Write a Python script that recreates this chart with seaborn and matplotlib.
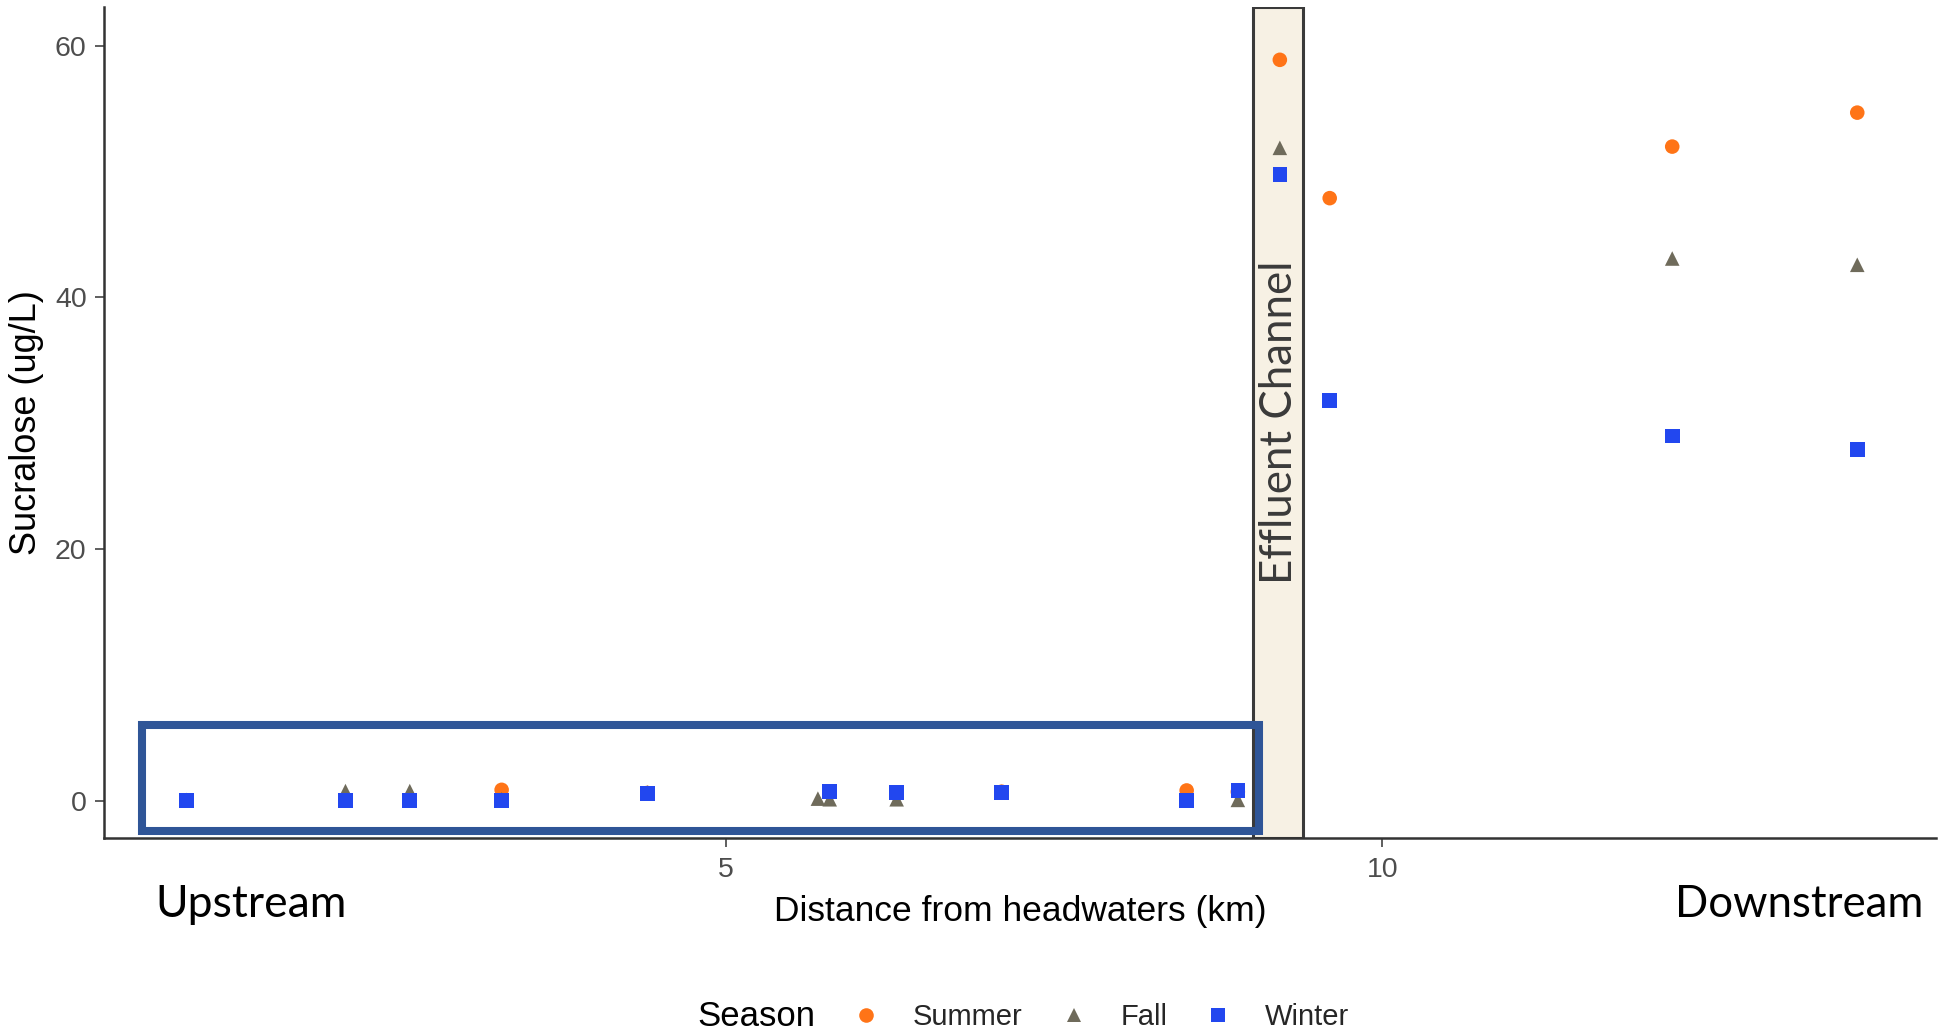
import matplotlib
matplotlib.use("Agg")
import matplotlib.pyplot as plt
import matplotlib.transforms as mtransforms
from matplotlib.patches import Rectangle
import seaborn as sns
import pandas as pd

# ---------------- data ----------------
summer_km = [0.89, 2.10, 2.59, 3.29, 4.40, 5.79, 6.30, 7.10, 8.51, 8.90, 9.22, 9.60, 12.21, 13.62]
summer_val = [0.0, 0.0, 0.0, 0.85, 0.6, 0.7, 0.65, 0.7, 0.8, 0.7, 58.9, 47.9, 52.0, 54.7]

fall_km = [0.89, 2.10, 2.59, 3.29, 4.40, 5.70, 5.79, 6.30, 7.10, 8.51, 8.90, 9.22, 12.21, 13.62]
fall_val = [0.05, 0.75, 0.75, 0.1, 0.65, 0.15, 0.1, 0.1, 0.7, 0.0, 0.05, 51.9, 43.1, 42.6]

winter_km = [0.89, 2.10, 2.59, 3.29, 4.40, 5.79, 6.30, 7.10, 8.51, 8.90, 9.22, 9.60, 12.21, 13.62]
winter_val = [0.0, 0.0, 0.0, 0.0, 0.57, 0.74, 0.66, 0.66, 0.0, 0.8, 49.8, 31.8, 29.0, 27.9]

seasons = ["Summer", "Fall", "Winter"]
season_colors = {"Summer": "#FF7417", "Fall": "#6F6B5B", "Winter": "#2247EF"}
season_markers = {"Summer": "o", "Fall": "^", "Winter": "s"}

effluent_range = (9.019, 9.40)
highlight_x = (0.553, 9.062)
highlight_y = (-2.43, 6.0)

xticks = [5, 10]
yticks = [0, 20, 40, 60]

df = pd.concat([
    pd.DataFrame({"Distance": summer_km, "Sucralose": summer_val, "Season": "Summer"}),
    pd.DataFrame({"Distance": fall_km, "Sucralose": fall_val, "Season": "Fall"}),
    pd.DataFrame({"Distance": winter_km, "Sucralose": winter_val, "Season": "Winter"}),
], ignore_index=True)

# ---------------- figure ----------------
sns.set_theme(style="ticks")
plt.rcParams["font.family"] = ["Liberation Sans", "DejaVu Sans"]

W, H = 1952, 1034
fig = plt.figure(figsize=(W / 100, H / 100), dpi=100)
fig.patch.set_facecolor("white")
ax = fig.add_axes([104 / W, 1 - 838 / H, (1936 - 104) / W, (838 - 7) / H])
ax.set_facecolor("white")

# effluent channel band
ax.axvspan(*effluent_range, facecolor="#F7F1E4", edgecolor="#3A3A3A", lw=2.2, zorder=1)

sns.scatterplot(data=df, x="Distance", y="Sucralose", hue="Season", style="Season",
                hue_order=seasons, style_order=seasons, palette=season_colors,
                markers=season_markers, s=110, edgecolor="none", linewidth=0,
                ax=ax, zorder=3)

# highlight box around low values
ax.add_patch(Rectangle((highlight_x[0], highlight_y[0]), highlight_x[1] - highlight_x[0],
                       highlight_y[1] - highlight_y[0], fill=False, edgecolor="#2F5597",
                       lw=5.8, zorder=4, clip_on=False))

ax.set_xlim(0.26, 14.22)
ax.set_ylim(-2.98, 63.1)
ax.set_xticks(xticks)
ax.set_yticks(yticks)
ax.set_xticklabels([str(t) for t in xticks])
ax.set_yticklabels([str(t) for t in yticks])

for side in ["top", "right"]:
    ax.spines[side].set_visible(False)
for side in ["left", "bottom"]:
    ax.spines[side].set_color("#333333")
    ax.spines[side].set_linewidth(1.8)
ax.tick_params(axis="both", colors="#333333", length=6.5, width=1.1, labelsize=20.5,
               labelcolor="#4D4D4D")
ax.tick_params(axis="x", pad=7)
ax.tick_params(axis="y", pad=6)

ax.set_xlabel("Distance from headwaters (km)", fontsize=25.5, color="black")
ax.set_ylabel("Sucralose (ug/L)", fontsize=26, color="black")
ax.xaxis.set_label_coords(0.5, (838 - 912) / 831)
ax.xaxis.label.set_va("center")
ax.yaxis.set_label_coords((27 - 104) / 1832, 0.5)
ax.yaxis.label.set_va("center")

# Effluent channel label
trans = mtransforms.blended_transform_factory(ax.transData, ax.transAxes)
ax.text(9.215, 0.5, "Effluent Channel", transform=trans, rotation=90, ha="center",
        va="center", fontsize=31.5, color="#3A3A3A", family=["Lato", "DejaVu Sans"], zorder=5)

# Upstream / Downstream
fig.text(155 / W, 1 - 917 / H, "Upstream", fontsize=32, color="black",
         family=["Lato", "DejaVu Sans"], ha="left", va="baseline")
fig.text(1923 / W, 1 - 917 / H, "Downstream", fontsize=31.5, color="black",
         family=["Lato", "DejaVu Sans"], ha="right", va="baseline")

# legend
handles, labels = ax.get_legend_handles_labels()
if ax.get_legend() is not None:
    ax.get_legend().remove()
pairs = [(h, l) for h, l in zip(handles, labels) if l in seasons]
leg = fig.legend([p[0] for p in pairs], [p[1] for p in pairs], loc="center left",
                 bbox_to_anchor=(837 / W, 1 - 1017 / H), ncol=3, frameon=False,
                 fontsize=21, handlelength=2.0, handletextpad=0.6, columnspacing=0.75,
                 borderpad=0, borderaxespad=0, markerscale=1.0)
fig.text(697 / W, 1 - 1017 / H, "Season", fontsize=25, color="black", ha="left", va="center")

fig.savefig("out.png", dpi=100, facecolor="white")
